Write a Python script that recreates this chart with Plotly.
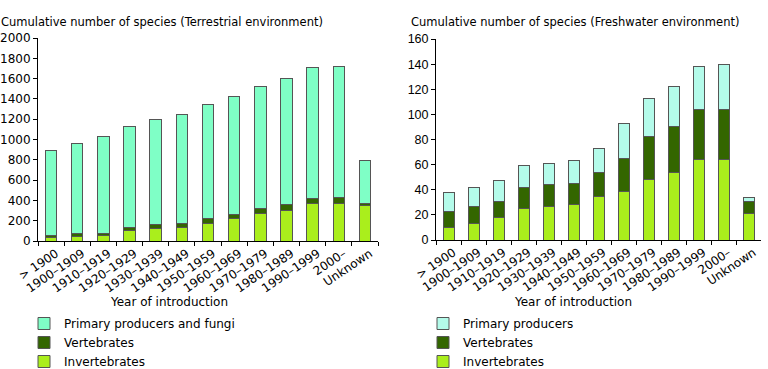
import plotly.graph_objects as go

categories = ["> 1900", "1900–1909", "1910–1919", "1920–1929", "1930–1939", "1940–1949",
              "1950–1959", "1960–1969", "1970–1979", "1980–1989", "1990–1999", "2000–", "Unknown"]

# Terrestrial environment
terr_invertebrates = [30, 42, 52, 108, 125, 131, 174, 217, 273, 305, 371, 371, 345]
terr_vertebrates = [28, 30, 25, 28, 33, 37, 45, 42, 47, 50, 52, 58, 25]
terr_total = [895, 965, 1025, 1125, 1195, 1245, 1340, 1425, 1520, 1600, 1710, 1720, 790]
terr_primary = [t - i - v for t, i, v in zip(terr_total, terr_invertebrates, terr_vertebrates)]

# Freshwater environment
fresh_invertebrates = [10, 13, 18, 25, 27, 28, 35, 39, 48, 54, 64, 64, 21]
fresh_vertebrates = [13, 14, 13, 17, 17, 17, 19, 26, 34, 36, 40, 40, 10]
fresh_primary = [15, 15, 16, 17, 17, 18, 19, 28, 31, 32, 34, 36, 3]

W, H = 768, 369
ML, MR, MT, MB = 38, 7, 38, 128
FONT = "DejaVu Sans"
C_PRIM = "#7fffc6"
C_PRIM_F = "#b4fbea"
C_VERT = "#336600"
C_INV = "#aaee1c"
LINE = dict(color="#555555", width=1)

fig = go.Figure()

def add(x, y, name, color, xa, ya, legend):
    fig.add_trace(go.Bar(x=x, y=y, name=name, marker=dict(color=color, line=LINE),
                         xaxis=xa, yaxis=ya, legend=legend))

add(categories, terr_invertebrates, "Invertebrates", C_INV, "x", "y", "legend")
add(categories, terr_vertebrates, "Vertebrates", C_VERT, "x", "y", "legend")
add(categories, terr_primary, "Primary producers and fungi", C_PRIM, "x", "y", "legend")
add(categories, fresh_invertebrates, "Invertebrates", C_INV, "x2", "y2", "legend2")
add(categories, fresh_vertebrates, "Vertebrates", C_VERT, "x2", "y2", "legend2")
add(categories, fresh_primary, "Primary producers", C_PRIM_F, "x2", "y2", "legend2")

PW = W - ML - MR
PH = H - MT - MB

def px_x(p):
    return (p - ML) / PW

def px_y(p):
    return 1 - (p - MT) / PH

def axis_common(tickfamily, size):
    return dict(showline=True, linecolor="#000000", linewidth=1, ticks="outside",
                ticklen=4, tickcolor="#000000", showgrid=False, zeroline=False,
                automargin=False,
                tickfont=dict(family=tickfamily, size=size, color="#000000"))

fig.update_layout(
    width=W, height=H, margin=dict(l=ML, r=MR, t=MT, b=MB, autoexpand=False),
    paper_bgcolor="white", plot_bgcolor="white",
    barmode="stack", bargap=0.56,
    font=dict(family=FONT, size=12, color="#000000"),
    xaxis=dict(domain=[px_x(38), px_x(378)], anchor="y", tickangle=-34, ticklabelshift=5,
               tickson="boundaries", **axis_common(FONT, 12)),
    yaxis=dict(domain=[px_y(241), px_y(38)], anchor="x", range=[0, 2000], dtick=200,
               **axis_common(FONT, 12)),
    xaxis2=dict(domain=[px_x(436), px_x(761)], anchor="y2", tickangle=-34, ticklabelshift=5,
                tickson="boundaries", **axis_common(FONT, 12)),
    yaxis2=dict(domain=[px_y(240), px_y(39)], anchor="x2", range=[0, 160], dtick=20,
                **axis_common("Liberation Sans", 12.5)),
    legend=dict(x=px_x(24), y=px_y(309), xanchor="left", yanchor="top",
                traceorder="reversed", font=dict(family=FONT, size=12),
                tracegroupgap=0, bgcolor="rgba(0,0,0,0)"),
    legend2=dict(x=px_x(423), y=px_y(309), xanchor="left", yanchor="top",
                 traceorder="reversed", font=dict(family=FONT, size=12),
                 tracegroupgap=0, bgcolor="rgba(0,0,0,0)"),
    annotations=[
        dict(text="Cumulative number of species (Terrestrial environment)", x=px_x(-1), y=px_y(22),
             xref="paper", yref="paper", xanchor="left", yanchor="middle", showarrow=False,
             font=dict(family=FONT, size=11.5)),
        dict(text="Cumulative number of species (Freshwater environment)", x=px_x(409), y=px_y(22),
             xref="paper", yref="paper", xanchor="left", yanchor="middle", showarrow=False,
             font=dict(family=FONT, size=11.5)),
        dict(text="Year of introduction", x=px_x(169), y=px_y(302),
             xref="paper", yref="paper", xanchor="center", yanchor="middle", showarrow=False,
             font=dict(family=FONT, size=12)),
        dict(text="Year of introduction", x=px_x(573), y=px_y(302),
             xref="paper", yref="paper", xanchor="center", yanchor="middle", showarrow=False,
             font=dict(family=FONT, size=12)),
    ],
)

fig.write_html("out.html", config={"displayModeBar": False},
               post_script="document.body.style.margin='0';document.body.style.overflow='hidden';")
